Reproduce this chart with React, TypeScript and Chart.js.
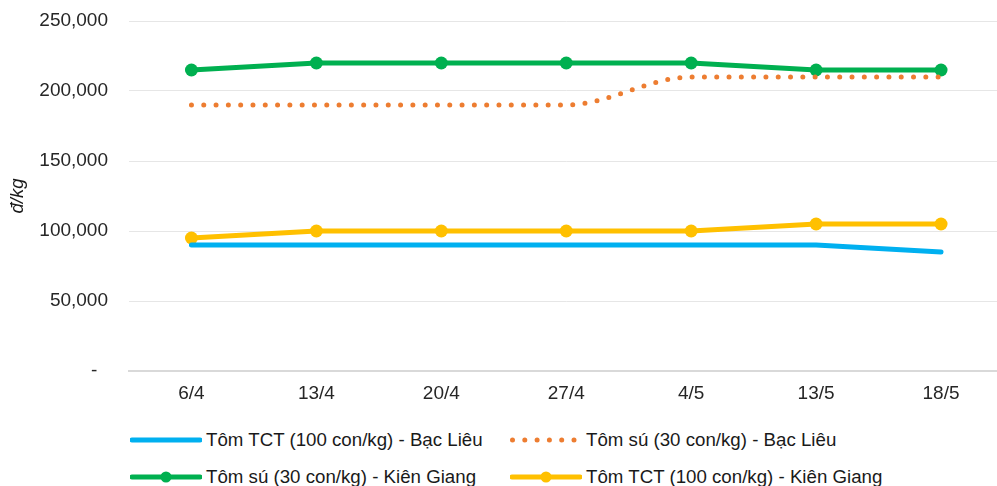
import React, { useEffect, useRef } from "react";
import { Chart, registerables } from "chart.js";

Chart.register(...registerables);

const categories = ["6/4", "13/4", "20/4", "27/4", "4/5", "13/5", "18/5"];
const tctBacLieu = [90000, 90000, 90000, 90000, 90000, 90000, 85000];
const suBacLieu = [190000, 190000, 190000, 190000, 210000, 210000, 210000];
const suKienGiang = [215000, 220000, 220000, 220000, 220000, 215000, 215000];
const tctKienGiang = [95000, 100000, 100000, 100000, 100000, 105000, 105000];
const yTicks = [0, 50000, 100000, 150000, 200000, 250000];

const names = [
  "Tôm TCT (100 con/kg) - Bạc Liêu",
  "Tôm sú (30 con/kg) - Bạc Liêu",
  "Tôm sú (30 con/kg) - Kiên Giang",
  "Tôm TCT (100 con/kg) - Kiên Giang",
];
const BLUE = "#00B0F0";
const ORANGE = "#ED7D31";
const GREEN = "#00B050";
const YELLOW = "#FFC000";
const FONT = "'Liberation Sans', Arial, sans-serif";

function Sample({ kind, color }: { kind: string; color: string }) {
  return (
    <svg width={72} height={16} style={{ display: "block" }}>
      {kind === "dots" ? (
        <line x1={2.5} y1={8} x2={70} y2={8} stroke={color} strokeWidth={5} strokeLinecap="round" strokeDasharray="0 12.3" />
      ) : (
        <line x1={2} y1={8} x2={70} y2={8} stroke={color} strokeWidth={5} strokeLinecap="round" />
      )}
      {kind === "marker" && <circle cx={36} cy={8} r={5.5} fill={color} />}
    </svg>
  );
}

function LegendItem({ x, y, kind, color, label }: any) {
  return (
    <div style={{ position: "absolute", left: x, top: y - 12, height: 24, display: "flex", alignItems: "center", whiteSpace: "nowrap" }}>
      <Sample kind={kind} color={color} />
      <span style={{ marginLeft: 4, font: `18.7px ${FONT}`, color: "#1a1a1a" }}>{label}</span>
    </div>
  );
}

export default function App() {
  const ref = useRef<HTMLCanvasElement | null>(null);
  useEffect(() => {
    if (!ref.current) return;
    const chart = new Chart(ref.current, {
      type: "line",
      data: {
        labels: categories,
        datasets: [
          { label: names[0], data: tctBacLieu, borderColor: BLUE, backgroundColor: BLUE, borderWidth: 5, pointRadius: 0, tension: 0, borderCapStyle: "round" },
          { label: names[1], data: suBacLieu, borderColor: ORANGE, backgroundColor: ORANGE, borderWidth: 5, pointRadius: 0, cubicInterpolationMode: "monotone", borderDash: [0, 12.3], borderCapStyle: "round" },
          { label: names[2], data: suKienGiang, borderColor: GREEN, backgroundColor: GREEN, borderWidth: 5, pointRadius: 6.5, pointBorderWidth: 0, tension: 0 },
          { label: names[3], data: tctKienGiang, borderColor: YELLOW, backgroundColor: YELLOW, borderWidth: 5, pointRadius: 6.5, pointBorderWidth: 0, tension: 0 },
        ],
      },
      options: {
        animation: false,
        responsive: false,
        maintainAspectRatio: false,
        layout: { padding: { top: 21, left: 0, right: 0, bottom: 0 } },
        plugins: { legend: { display: false }, tooltip: { enabled: false } },
        scales: {
          x: {
            offset: true,
            grid: { display: false, drawTicks: true, tickLength: 11 },
            border: { display: true, color: "#d9d9d9", width: 2 },
            ticks: { font: { family: FONT, size: 19 }, color: "#262626", padding: 0, maxRotation: 0 },
            afterFit: (s: any) => { s.height = 44; },
          },
          y: {
            min: 0,
            max: 250000,
            afterBuildTicks: (s: any) => { s.ticks = yTicks.map((v) => ({ value: v })); },
            grid: { color: "#e6e6e6", lineWidth: 1, drawTicks: true, tickLength: 21, tickColor: "rgba(0,0,0,0)" },
            border: { display: false },
            ticks: {
              font: { family: FONT, size: 19 },
              color: "#262626",
              padding: 0,
              callback: (v: any) => (Number(v) === 0 ? "-  " : Number(v).toLocaleString("en-US")),
            },
            title: { display: true, text: "đ/kg", font: { family: FONT, size: 18.5, style: "italic" }, color: "#1a1a1a", padding: { top: 7, bottom: 0 } },
            afterFit: (s: any) => { s.width = 129; },
          },
        },
      },
    } as any);
    return () => chart.destroy();
  }, []);

  return (
    <div style={{ position: "absolute", left: 0, top: 0, width: 997, height: 486, overflow: "hidden", background: "#fff" }}>
      <canvas ref={ref} width={1010} height={415} style={{ position: "absolute", left: 0, top: 0, width: 1010, height: 415 }} />
      <LegendItem x={130} y={440} kind="line" color={BLUE} label={names[0]} />
      <LegendItem x={510} y={440} kind="dots" color={ORANGE} label={names[1]} />
      <LegendItem x={130} y={477} kind="marker" color={GREEN} label={names[2]} />
      <LegendItem x={510} y={477} kind="marker" color={YELLOW} label={names[3]} />
    </div>
  );
}
